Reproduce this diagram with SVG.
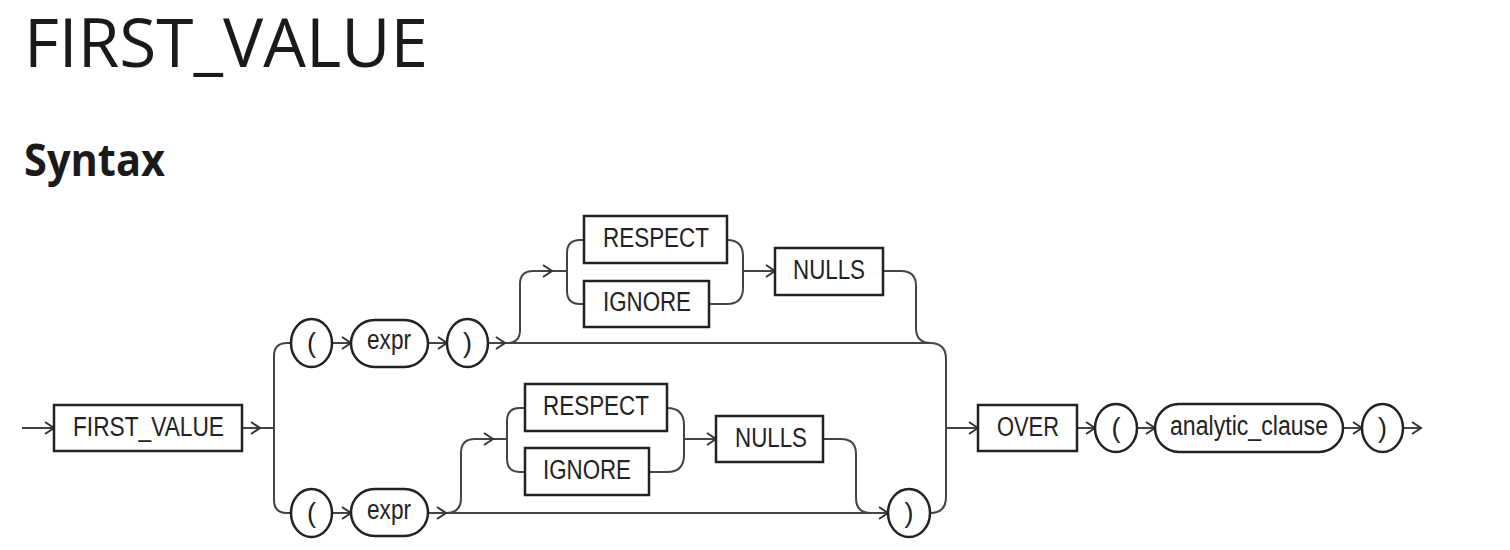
<svg xmlns="http://www.w3.org/2000/svg" width="1510" height="550" viewBox="0 0 1510 550">
<style>
.title{font-family:"Open Sans","Noto Sans",sans-serif;font-weight:400;fill:#1a1a1a}
.h2{font-family:"Open Sans","Noto Sans",sans-serif;font-weight:700;fill:#1a1a1a}
.box{fill:#fff;stroke:#222;stroke-width:2.5}
.t{font-family:"Liberation Sans",Arial,sans-serif;font-size:27px;fill:#222}
.c{text-anchor:middle}
.ln{fill:none;stroke:#444;stroke-width:2}
.ch{fill:none;stroke:#333;stroke-width:2;stroke-linejoin:miter}
</style>
<defs>
<path id="chev" d="M-9,-6 L0,0 L-9,6"/>
</defs>
<rect width="1510" height="550" fill="#fff"/>
<text class="title" x="24" y="67" font-size="67" textLength="404" lengthAdjust="spacingAndGlyphs">FIRST_VALUE</text>
<text class="h2" x="24" y="176" font-size="44" textLength="141" lengthAdjust="spacingAndGlyphs">Syntax</text>

<g id="connectors">
<path class="ln" d="M22,428 H54"/>
<path class="ln" d="M242,428 H274"/>
<path class="ln" d="M291,343 H287 Q274,343 274,356 V500 Q274,513 287,513 H291"/>
<path class="ln" d="M332,343 H351"/>
<path class="ln" d="M428,343 H447"/>
<path class="ln" d="M488,343 H930 Q946,343 946,359 V497 Q946,513 930,513"/>
<path class="ln" d="M507,343 Q520,343 520,330 V284 Q520,271 533,271 H567"/>
<path class="ln" d="M584,240 H580 Q567,240 567,253 V291 Q567,304 580,304 H584"/>
<path class="ln" d="M727,240 Q743,240 743,256 V288 Q743,304 727,304 H709"/>
<path class="ln" d="M743,271 H775"/>
<path class="ln" d="M883,271 H901 Q916,271 916,286 V328 Q916,343 931,343"/>
<path class="ln" d="M332,513 H351"/>
<path class="ln" d="M428,513 H888"/>
<path class="ln" d="M446,513 Q461,513 461,498 V453 Q461,439 475,439 H507"/>
<path class="ln" d="M525,408 H520 Q507,408 507,421 V459 Q507,472 520,472 H525"/>
<path class="ln" d="M667,408 Q684,408 684,425 V455 Q684,472 667,472 H649"/>
<path class="ln" d="M684,439 H716"/>
<path class="ln" d="M823,439 H841 Q856,439 856,454 V498 Q856,513 871,513 H888"/>
<path class="ln" d="M946,428 H978"/>
<path class="ln" d="M1077,428 H1095"/>
<path class="ln" d="M1137,428 H1155"/>
<path class="ln" d="M1343,428 H1362"/>
<path class="ln" d="M1403,428 H1421"/>
<g class="ch">
<use href="#chev" x="54" y="428"/>
<use href="#chev" x="260" y="428"/>
<use href="#chev" x="351" y="343"/>
<use href="#chev" x="447" y="343"/>
<use href="#chev" x="505" y="343"/>
<use href="#chev" x="552" y="271"/>
<use href="#chev" x="775" y="271"/>
<use href="#chev" x="351" y="513"/>
<use href="#chev" x="446" y="513"/>
<use href="#chev" x="493" y="439"/>
<use href="#chev" x="716" y="439"/>
<use href="#chev" x="888" y="513"/>
<use href="#chev" x="978" y="428"/>
<use href="#chev" x="1095" y="428"/>
<use href="#chev" x="1155" y="428"/>
<use href="#chev" x="1362" y="428"/>
<use href="#chev" x="1421" y="428"/>
</g>
</g>

<g id="n-first-value"><rect class="box" x="54" y="405" width="188" height="46"/><text class="t" x="73" y="436" textLength="151" lengthAdjust="spacingAndGlyphs">FIRST_VALUE</text></g>

<g id="n-lp1"><ellipse class="box" cx="311.5" cy="343" rx="20.5" ry="24"/><text class="t c" x="311.5" y="352">(</text></g>
<g id="n-expr1"><rect class="box" x="351" y="320" width="77" height="47" rx="23.5"/><text class="t" x="367" y="349" textLength="44" lengthAdjust="spacingAndGlyphs">expr</text></g>
<g id="n-rp1"><ellipse class="box" cx="467.5" cy="343" rx="20.5" ry="24"/><text class="t c" x="467.5" y="352">)</text></g>
<g id="n-respect1"><rect class="box" x="584" y="216" width="143" height="47"/><text class="t" x="603" y="247" textLength="106" lengthAdjust="spacingAndGlyphs">RESPECT</text></g>
<g id="n-ignore1"><rect class="box" x="584" y="281" width="125" height="46"/><text class="t" x="603" y="311" textLength="88" lengthAdjust="spacingAndGlyphs">IGNORE</text></g>
<g id="n-nulls1"><rect class="box" x="775" y="248" width="108" height="47"/><text class="t" x="793" y="279" textLength="72" lengthAdjust="spacingAndGlyphs">NULLS</text></g>

<g id="n-lp2"><ellipse class="box" cx="311.5" cy="513" rx="20.5" ry="24"/><text class="t c" x="311.5" y="522">(</text></g>
<g id="n-expr2"><rect class="box" x="351" y="489" width="77" height="47" rx="23.5"/><text class="t" x="367" y="519" textLength="44" lengthAdjust="spacingAndGlyphs">expr</text></g>
<g id="n-respect2"><rect class="box" x="525" y="384" width="142" height="47"/><text class="t" x="543" y="415" textLength="106" lengthAdjust="spacingAndGlyphs">RESPECT</text></g>
<g id="n-ignore2"><rect class="box" x="525" y="448" width="124" height="47"/><text class="t" x="543" y="479" textLength="88" lengthAdjust="spacingAndGlyphs">IGNORE</text></g>
<g id="n-nulls2"><rect class="box" x="716" y="416" width="107" height="46"/><text class="t" x="735" y="447" textLength="72" lengthAdjust="spacingAndGlyphs">NULLS</text></g>
<g id="n-rp2"><ellipse class="box" cx="909" cy="513" rx="21" ry="24"/><text class="t c" x="909" y="522">)</text></g>

<g id="n-over"><rect class="box" x="978" y="405" width="99" height="46"/><text class="t" x="997" y="436" textLength="62" lengthAdjust="spacingAndGlyphs">OVER</text></g>
<g id="n-lp3"><ellipse class="box" cx="1116" cy="428" rx="21" ry="24"/><text class="t c" x="1116" y="437">(</text></g>
<g id="n-analytic"><rect class="box" x="1155" y="404" width="188" height="48" rx="24"/><text class="t" x="1170" y="435" textLength="158" lengthAdjust="spacingAndGlyphs">analytic_clause</text></g>
<g id="n-rp3"><ellipse class="box" cx="1382.5" cy="428" rx="20.5" ry="24"/><text class="t c" x="1382.5" y="437">)</text></g>
</svg>
